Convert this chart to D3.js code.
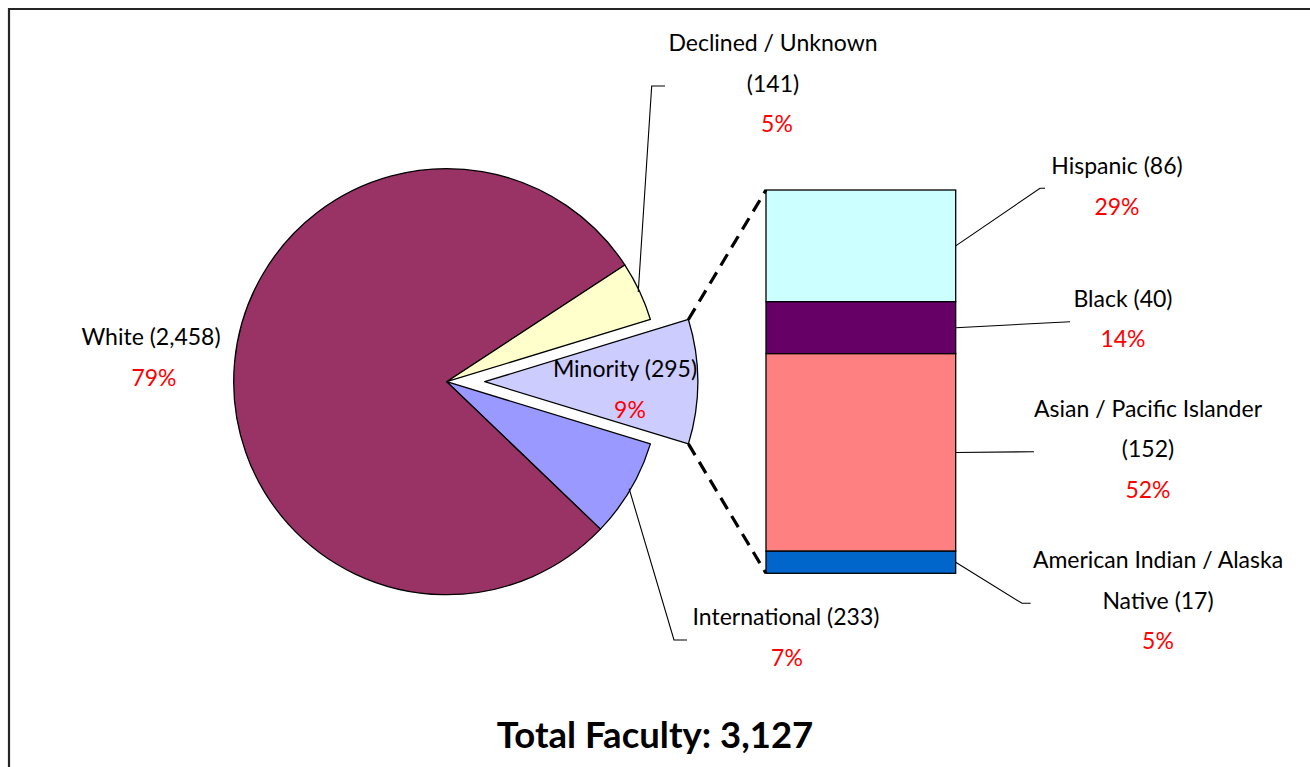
<!DOCTYPE html>
<html>
<head>
<meta charset="utf-8">
<script src="https://cdn.jsdelivr.net/npm/d3@7"></script>
<style>
  html, body { margin: 0; padding: 0; background: #fff; }
  svg { display: block; }
  text { font-family: Lato, "Open Sans", sans-serif; }
</style>
</head>
<body>
<svg id="chart" width="1310" height="767"></svg>
<script>
// ---------- data ----------
const pieCategories = ["Minority", "International", "White", "Declined / Unknown"];
const pieValues     = [295, 233, 2458, 141];
const piePctLabels  = ["9%", "7%", "79%", "5%"];

const barCategories = ["Hispanic", "Black", "Asian / Pacific Islander", "American Indian / Alaska Native"];
const barValues     = [86, 40, 152, 17];
const barPctLabels  = ["29%", "14%", "52%", "5%"];

const totalLabel = "Total Faculty: 3,127";

// ---------- styles / layout ----------
const pieColors = ["#CCCCFF", "#9999FF", "#993366", "#FFFFCC"];
const barColors = ["#CCFFFF", "#660066", "#FF8080", "#0066CC"];

const W = 1310, H = 767;
const cx = 446.7, cy = 381.7, R = 213;
const explode = 38;
const bar = { x0: 766, x1: 955.7, y0: 190, y1: 573.3 };
const fontSize = 23;
const lineGap = 40.5;

// label layout: centre x, first baseline, where to break the name, leader-line end points
const pieLabelLayout = [
  { cx: 625, pcx: 630, y: 377.3, lines: 1 },                                       // Minority
  { cx: 786, pcx: 787, y: 625, lines: 1, leader: [[674, 640], [687, 640]] },        // International
  { cx: 151, pcx: 154, y: 345, lines: 1 },                                         // White
  { cx: 773, pcx: 777, y: 51, lines: 2, leader: [[651.7, 86], [665, 86]] }          // Declined
];
const barLabelLayout = [
  { cx: 1117, y: 174, lines: 1, leader: [[1040, 188.3], [1045, 188.3]] },
  { cx: 1123, y: 306.7, lines: 1, leader: [[1070, 321.7]] },
  { cx: 1148, y: 416.7, lines: 2, leader: [[1034, 451.7]] },
  { cx: 1158, y: 568, lines: 2, breakWord: 4, leader: [[1022, 603.3], [1030.7, 603.3]] }
];

const fmt = d3.format(",");
function labelLines(name, value, layout) {
  const full = `${name} (${fmt(value)})`;
  if (layout.lines === 1) return [full];
  const words = full.split(" ");
  const k = layout.breakWord != null ? layout.breakWord : words.length - 1;
  return [words.slice(0, k).join(" "), words.slice(k).join(" ")];
}

const svg = d3.select("#chart");

// frame
svg.append("path")
  .attr("d", `M9,${H + 5} L9,9 L${W + 5},9`)
  .attr("fill", "none").attr("stroke", "#262626").attr("stroke-width", 2.2);

// ---------- pie ----------
const total = d3.sum(pieValues);
const minorityAngle = 2 * Math.PI * pieValues[0] / total;
const pie = d3.pie().sort(null)
  .startAngle(Math.PI / 2 - minorityAngle / 2)
  .endAngle(Math.PI / 2 - minorityAngle / 2 + 2 * Math.PI);
const arcs = pie(pieValues);
const arc = d3.arc().innerRadius(0).outerRadius(R);

const gPie = svg.append("g").attr("transform", `translate(${cx},${cy})`);
gPie.selectAll("path.slice")
  .data(arcs)
  .join("path")
  .attr("class", "slice")
  .attr("transform", (d, i) => {
    if (i !== 0) return null;
    const m = (d.startAngle + d.endAngle) / 2;
    return `translate(${explode * Math.sin(m)},${-explode * Math.cos(m)})`;
  })
  .attr("d", arc)
  .attr("fill", (d, i) => pieColors[i])
  .attr("stroke", "#000").attr("stroke-width", 1.3).attr("stroke-linejoin", "round");

// ---------- bar ----------
const yScale = d3.scaleLinear().domain([0, d3.sum(barValues)]).range([bar.y0, bar.y1]);
const cum = d3.cumsum(barValues);
const segs = barValues.map((v, i) => ({ v, i, start: cum[i] - v, end: cum[i] }));

svg.append("g").selectAll("rect")
  .data(segs)
  .join("rect")
  .attr("x", bar.x0)
  .attr("width", bar.x1 - bar.x0)
  .attr("y", d => yScale(d.start))
  .attr("height", d => yScale(d.end) - yScale(d.start))
  .attr("fill", d => barColors[d.i])
  .attr("stroke", "#000").attr("stroke-width", 1.3);

// ---------- connector dashed lines ----------
const mArc = arcs[0];
const mMid = (mArc.startAngle + mArc.endAngle) / 2;
const ox = cx + explode * Math.sin(mMid), oy = cy - explode * Math.cos(mMid);
const pTop = [ox + R * Math.sin(mArc.startAngle), oy - R * Math.cos(mArc.startAngle)];
const pBot = [ox + R * Math.sin(mArc.endAngle), oy - R * Math.cos(mArc.endAngle)];
svg.append("g").selectAll("line")
  .data([[pTop, [bar.x0, yScale(0)]], [pBot, [bar.x0, yScale(d3.sum(barValues))]]])
  .join("line")
  .attr("x1", d => d[0][0]).attr("y1", d => d[0][1])
  .attr("x2", d => d[1][0]).attr("y2", d => d[1][1])
  .attr("stroke", "#000").attr("stroke-width", 3.2)
  .attr("stroke-dasharray", "13,8");

// ---------- leader lines ----------
const line = d3.line();
const leaders = [];
arcs.forEach((d, i) => {
  const L = pieLabelLayout[i];
  if (!L.leader) return;
  const m = (d.startAngle + d.endAngle) / 2;
  const start = [cx + (R - 1.5) * Math.sin(m), cy - (R - 1.5) * Math.cos(m)];
  leaders.push([start, ...L.leader]);
});
segs.forEach((d, i) => {
  const L = barLabelLayout[i];
  const start = [bar.x1, (yScale(d.start) + yScale(d.end)) / 2];
  leaders.push([start, ...L.leader]);
});
svg.append("g").selectAll("path")
  .data(leaders)
  .join("path")
  .attr("d", line)
  .attr("fill", "none").attr("stroke", "#000").attr("stroke-width", 1.1);

// ---------- labels ----------
function drawLabel(g, name, value, pct, L) {
  const lines = labelLines(name, value, L);
  lines.forEach((t, k) => {
    g.append("text")
      .attr("x", L.cx).attr("y", L.y + k * lineGap)
      .attr("text-anchor", "middle")
      .attr("font-size", fontSize)
      .attr("fill", "#000")
      .text(t);
  });
  g.append("text")
    .attr("x", L.pcx != null ? L.pcx : L.cx).attr("y", L.y + lines.length * lineGap)
    .attr("text-anchor", "middle")
    .attr("font-size", fontSize)
    .attr("fill", "#FF0000")
    .text(pct);
}
const gLab = svg.append("g");
pieCategories.forEach((c, i) => drawLabel(gLab, c, pieValues[i], piePctLabels[i], pieLabelLayout[i]));
barCategories.forEach((c, i) => drawLabel(gLab, c, barValues[i], barPctLabels[i], barLabelLayout[i]));

// ---------- title ----------
svg.append("text")
  .attr("x", 655).attr("y", 748)
  .attr("text-anchor", "middle")
  .attr("font-size", 36.5).attr("font-weight", "bold")
  .attr("fill", "#000")
  .text(totalLabel);
</script>
</body>
</html>
